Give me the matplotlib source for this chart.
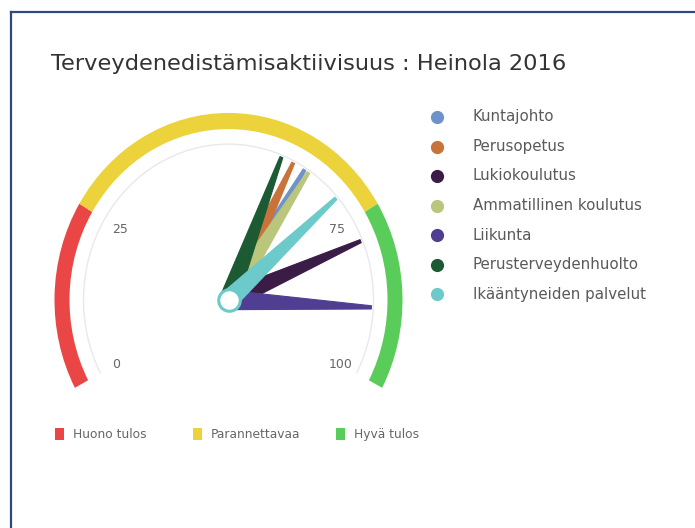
import numpy as np
import matplotlib
matplotlib.use("Agg")
import matplotlib.pyplot as plt
from matplotlib.patches import Wedge, Polygon, Rectangle, Arc

# ---- data ----
title = "Terveydenedistämisaktiivisuus : Heinola 2016"
series_names = ["Kuntajohto", "Perusopetus", "Lukiokoulutus", "Ammatillinen koulutus",
                "Liikunta", "Perusterveydenhuolto", "Ikääntyneiden palvelut"]
series_values = [63.6, 61.4, 78.6, 64.4, 89.3, 59.2, 70.6]
series_colors = ["#6f93c9", "#c9733a", "#3a1c47", "#bac67c", "#4f3e92", "#1b5a33", "#6dcaca"]

band_names = ["Huono tulos", "Parannettavaa", "Hyvä tulos"]
band_from = [0, 25, 75]
band_to = [25, 75, 100]
band_colors = ["#ea4646", "#ecd33c", "#5acc5a"]

tick_values = [0, 25, 75, 100]
tick_labels = ["0", "25", "75", "100"]

# ---- layout ----
W, H = 695, 528
CX, CY = 228.5, 300.0      # gauge centre in pixels
YS = 1.075                  # vertical stretch
HALF = 118.0                # half sweep (deg from top)
R_OUT, R_IN = 174.0, 159.0
R_PANE = 145.0
R_LAB = 127.0
NEEDLE_R = 143.0
BASE_W, TOP_W = 18.0, 3.0

def ang(v):
    # value -> standard polar angle (deg)
    return 90 + HALF - v / 100.0 * 2 * HALF

fig = plt.figure(figsize=(W / 100, H / 100), dpi=100)
fig.patch.set_facecolor("white")

ax = fig.add_axes([0, 0, 1, 1])
ax.set_xlim(-CX, W - CX)
ax.set_ylim((CY - H) / YS, CY / YS)
ax.axis("off")

# pane arc
ax.add_patch(Arc((0, 0), 2 * R_PANE, 2 * R_PANE, theta1=ang(100), theta2=ang(0),
                 color="#e8e8ee", lw=1.0))

# bands
for f, t, c in zip(band_from, band_to, band_colors):
    ax.add_patch(Wedge((0, 0), R_OUT, ang(t), ang(f), width=R_OUT - R_IN,
                       facecolor=c, edgecolor="none"))

# tick labels
for v, lab in zip(tick_values, tick_labels):
    a = np.radians(ang(v))
    ax.text(R_LAB * np.cos(a), R_LAB * np.sin(a), lab, ha="center", va="center",
            fontsize=9, color="#666666", family="DejaVu Sans")

# needles
for v, c in zip(series_values, series_colors):
    a = np.radians(ang(v))
    u = np.array([np.cos(a), np.sin(a)])
    p = np.array([-np.sin(a), np.cos(a)])
    pts = [p * BASE_W / 2, u * NEEDLE_R + p * TOP_W / 2,
           u * NEEDLE_R - p * TOP_W / 2, -p * BASE_W / 2]
    ax.add_patch(Polygon(pts, closed=True, facecolor=c, edgecolor=c, lw=0.8,
                         joinstyle="round"))

# pivot
ax.plot([0], [0], marker="o", markersize=15.5, markerfacecolor="white",
        markeredgecolor=series_colors[-1], markeredgewidth=2.2, zorder=10)

# ---- overlay in pixel coords ----
ov = fig.add_axes([0, 0, 1, 1], facecolor="none")
ov.set_xlim(0, W)
ov.set_ylim(H, 0)
ov.axis("off")

# border (left and top)
ov.plot([10.5, 10.5], [H, 11.5], color="#2d4a7c", lw=1.6)
ov.plot([10.5, W], [11.5, 11.5], color="#2d4a7c", lw=1.6)

ov.text(51, 64, title, ha="left", va="center", fontsize=16.2, color="#333333",
        family="DejaVu Sans")

# series legend
for i, (n, c) in enumerate(zip(series_names, series_colors)):
    y = 117 + i * 29.5
    ov.plot([437], [y], marker="o", markersize=9.5, color=c, markeredgewidth=0)
    ov.text(473, y, n, ha="left", va="center", fontsize=10.8, color="#5a5a5a",
            family="DejaVu Sans")

# band legend
bx = [55, 193, 336]
for x, n, c in zip(bx, band_names, band_colors):
    ov.add_patch(Rectangle((x, 428), 9, 12, facecolor=c, edgecolor="none"))
    ov.text(x + 18, 434.5, n, ha="left", va="center", fontsize=8.8, color="#666666",
            family="DejaVu Sans")

fig.savefig("out.png", dpi=100, facecolor="white")
